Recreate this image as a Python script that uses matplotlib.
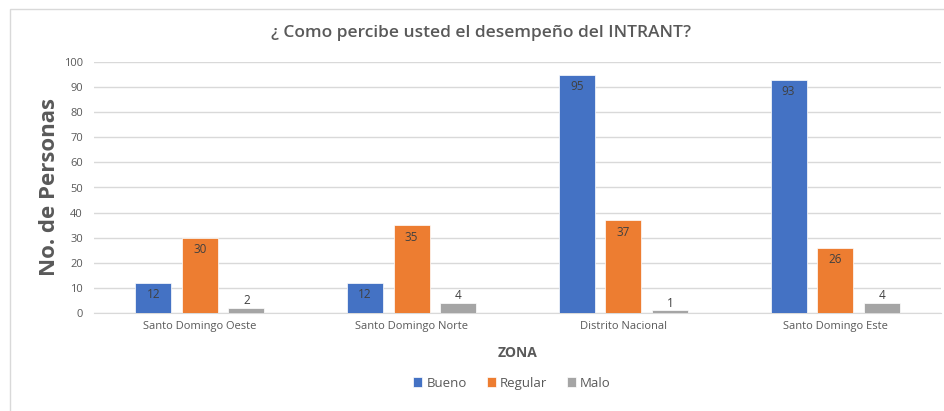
import numpy as np
import matplotlib.pyplot as plt
from matplotlib.patches import Rectangle

# data
zonas = ["Santo Domingo Oeste", "Santo Domingo Norte", "Distrito Nacional", "Santo Domingo Este"]
bueno = [12, 12, 95, 93]
regular = [30, 35, 37, 26]
malo = [2, 4, 1, 4]
yticks = list(range(0, 101, 10))

colors = ["#4472C4", "#ED7D31", "#A5A5A5"]
text_col = "#595959"
plt.rcParams['font.family'] = ['Open Sans', 'DejaVu Sans']

fig = plt.figure(figsize=(9.44, 4.11), dpi=100)
ax = fig.add_axes([94 / 944, 98 / 411, 847 / 944, 251 / 411])

x = np.arange(len(zonas))
width = 0.17
step = 0.22
series = [("Bueno", bueno), ("Regular", regular), ("Malo", malo)]

for i, (name, vals) in enumerate(series):
    pos = x + (i - 1) * step
    bars = ax.bar(pos, vals, width, color=colors[i], label=name, zorder=3,
                  edgecolor="white", linewidth=0.5)
    for b, v in zip(bars, vals):
        cx = b.get_x() + b.get_width() / 2
        if name == "Malo":
            ax.text(cx, v + 0.3, str(v), ha="center", va="bottom", fontsize=8.5,
                    color="#404040", zorder=4)
        else:
            ax.text(cx, v - 2.2, str(v), ha="center", va="top", fontsize=8.5,
                    color="#404040", zorder=4)

ax.set_xlim(-0.5, len(zonas) - 0.5)
ax.set_ylim(0, 100)
ax.set_yticks(yticks)
ax.set_xticks(x)
ax.set_xticklabels(zonas, fontsize=8, color=text_col)
ax.tick_params(axis="y", labelsize=8, colors=text_col, length=0, pad=8)
ax.tick_params(axis="x", length=0, pad=6)
ax.grid(axis="y", color="#D9D9D9", linewidth=1, zorder=0)
for s in ["top", "right", "left"]:
    ax.spines[s].set_visible(False)
ax.spines["bottom"].set_color("#D9D9D9")

ax.set_ylabel("No. de Personas", fontsize=16, fontweight="bold", color=text_col, labelpad=3)
ax.set_xlabel("ZONA", fontsize=10, fontweight="bold", color=text_col, labelpad=10)
fig.text(481 / 944, 1 - 33 / 411, "¿ Como percibe usted el desempeño del INTRANT?", ha="center",
         va="center", fontsize=12.5, fontweight="semibold", color=text_col)

leg = fig.legend(loc="center", bbox_to_anchor=(512 / 944, 1 - 383 / 411), ncol=3, frameon=False,
                 fontsize=9.5, handlelength=0.7, handleheight=0.7, handletextpad=0.3,
                 columnspacing=1.5)
for t in leg.get_texts():
    t.set_color(text_col)

# outer chart frame (cropped on the right and bottom)
fig.patches.append(Rectangle((10 / 944, -0.1), 1.2, 1.1 - 9 / 411, transform=fig.transFigure,
                             fill=False, edgecolor="#D9D9D9", linewidth=1))

fig.savefig("out.png", dpi=100)
